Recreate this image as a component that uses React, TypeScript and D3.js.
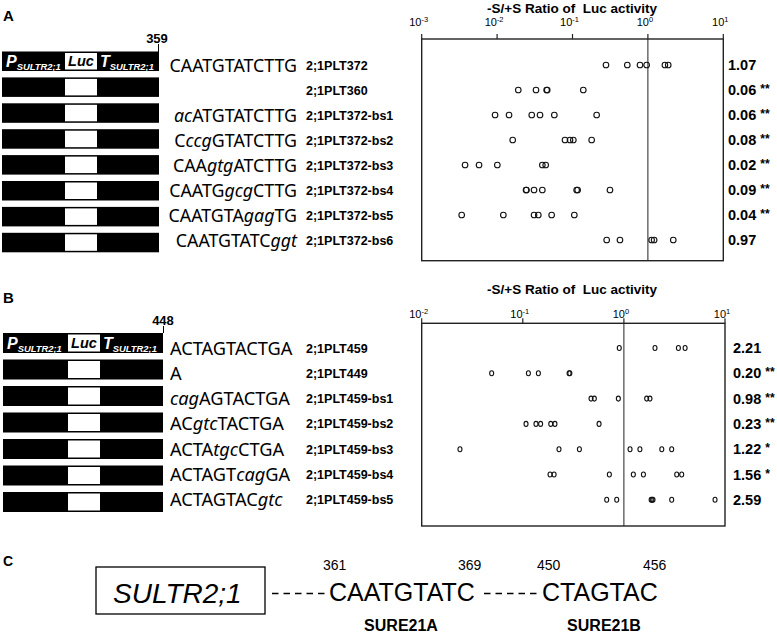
import React from 'react';
import * as d3 from 'd3';

// ---------- Panel A data ----------
const namesA = ['2;1PLT372', '2;1PLT360', '2;1PLT372-bs1', '2;1PLT372-bs2', '2;1PLT372-bs3', '2;1PLT372-bs4', '2;1PLT372-bs5', '2;1PLT372-bs6'];
const seqsA = ['CAATGTATCTTG', '', 'acATGTATCTTG', 'CccgGTATCTTG', 'CAAgtgATCTTG', 'CAATGgcgCTTG', 'CAATGTAgagTG', 'CAATGTATCggt'];
const meansA = ['1.07', '0.06', '0.06', '0.08', '0.02', '0.09', '0.04', '0.97'];
const sigA = ['', '**', '**', '**', '**', '**', '**', ''];
const pointsA = [
  [0.278, 0.533, 0.785, 0.962, 1.68, 1.86],
  [0.0191, 0.0328, 0.0454, 0.0462, 0.139],
  [0.0094, 0.0144, 0.0288, 0.0371, 0.0574, 0.209],
  [0.0161, 0.0795, 0.0927, 0.1026, 0.1795],
  [0.00376, 0.00576, 0.01007, 0.0398, 0.0441],
  [0.0242, 0.0245, 0.0309, 0.0398, 0.1135, 0.117, 0.314],
  [0.00339, 0.0121, 0.0309, 0.0352, 0.0529, 0.1057],
  [0.284, 0.426, 1.12, 1.21, 2.17],
];
const ticksA = [1e-3, 1e-2, 1e-1, 1, 10];
const tickExpA = ['-3', '-2', '-1', '0', '1'];

// ---------- Panel B data ----------
const namesB = ['2;1PLT459', '2;1PLT449', '2;1PLT459-bs1', '2;1PLT459-bs2', '2;1PLT459-bs3', '2;1PLT459-bs4', '2;1PLT459-bs5'];
const seqsB = ['ACTAGTACTGA', 'A', 'cagAGTACTGA', 'ACgtcTACTGA', 'ACTAtgcCTGA', 'ACTAGTcagGA', 'ACTAGTACgtc'];
const meansB = ['2.21', '0.20', '0.98', '0.23', '1.22', '1.56', '2.59'];
const sigB = ['', '**', '**', '**', '*', '*', ''];
const pointsB = [
  [0.9, 2.03, 3.46, 4.03],
  [0.0492, 0.1136, 0.1426, 0.287, 0.292],
  [0.473, 0.51, 0.881, 1.68, 1.81],
  [0.1076, 0.135, 0.15, 0.189, 0.208, 0.568],
  [0.0239, 0.228, 0.363, 1.15, 1.44, 2.37, 2.97],
  [0.186, 0.204, 0.718, 1.24, 1.56, 3.33, 3.73],
  [0.676, 0.849, 1.86, 1.9, 1.94, 2.97, 7.97],
];
const ticksB = [1e-2, 1e-1, 1, 10];
const tickExpB = ['-2', '-1', '0', '1'];

// ---------- Panel C data ----------
const geneName = 'SULTR2;1';
const motifs = ['CAATGTATC', 'CTAGTAC'];
const motifNames = ['SURE21A', 'SURE21B'];
const motifStart = ['361', '450'];
const motifEnd = ['369', '456'];

const AR = '"Liberation Sans", Arial, Helvetica, sans-serif';
const NOTO = '"Noto Sans", "Open Sans", sans-serif';

function Seq({ s, x, y, anchor, size }: { s: string; x: number; y: number; anchor: string; size: number }) {
  const runs: { t: string; lower: boolean }[] = [];
  for (const ch of s) {
    const lower = ch === ch.toLowerCase();
    if (runs.length && runs[runs.length - 1].lower === lower) runs[runs.length - 1].t += ch;
    else runs.push({ t: ch, lower });
  }
  return (
    <text x={x} y={y} textAnchor={anchor} fontFamily={NOTO} fontSize={size} fill="#000">
      {runs.map((r, i) => (
        <tspan key={i} fontStyle={r.lower ? 'italic' : 'normal'}>{r.t}</tspan>
      ))}
    </text>
  );
}

function ConstructBar({ x0, x1, y, h, lucX0, lucX1, first }: any) {
  return (
    <g>
      <rect x={x0} y={y} width={x1 - x0} height={h} fill="#000" />
      <rect x={lucX0} y={y + 1.5} width={lucX1 - lucX0} height={h - 3} fill="#fff" />
      {first && (
        <g fontFamily={AR} fontWeight="bold" fontStyle="italic">
          <text x={x0 + 4} y={y + h / 2 + 5.5} fill="#fff" fontSize={16}>
            P<tspan fontSize={9.4} dy={3.5}>SULTR2;1</tspan>
          </text>
          <text x={(lucX0 + lucX1) / 2} y={y + h / 2 + 5} fill="#000" fontSize={14.5} textAnchor="middle">Luc</text>
          <text x={lucX1 + 3} y={y + h / 2 + 5.5} fill="#fff" fontSize={16}>
            T<tspan fontSize={9.4} dy={3.5}>SULTR2;1</tspan>
          </text>
        </g>
      )}
    </g>
  );
}

function DotPanel({ scale, ticks, exps, top, bottom, titleY, labelY, rows, pts, means, sig, rx, ry, labelX }: any) {
  const [x0, x1] = scale.range();
  return (
    <g>
      <text x={572} y={titleY} textAnchor="middle" fontFamily={AR} fontWeight="bold" fontSize={13.5} style={{ whiteSpace: 'pre' }}>
        {'-S/+S Ratio of  Luc activity'}
      </text>
      {ticks.map((t: number, i: number) => (
        <g key={i}>
          <line x1={scale(t)} x2={scale(t)} y1={top - 5} y2={top} stroke="#222" strokeWidth={1.2} />
          <text x={scale(t) - 3} y={labelY} textAnchor="middle" fontFamily={AR} fontSize={11}>
            10<tspan fontSize={7.5} dy={-4}>{exps[i]}</tspan>
          </text>
        </g>
      ))}
      <rect x={x0} y={top} width={x1 - x0} height={bottom - top} fill="none" stroke="#222" strokeWidth={1.4} />
      <line x1={scale(1)} x2={scale(1)} y1={top} y2={bottom} stroke="#222" strokeWidth={1} />
      {pts.map((row: number[], i: number) => (
        <g key={i}>
          {row.map((v, j) => (
            <ellipse key={j} cx={scale(v)} cy={rows[i]} rx={rx} ry={ry} fill="none" stroke="#111" strokeWidth={1.1} />
          ))}
          <text x={labelX} y={rows[i] + 5} fontFamily={AR} fontWeight="bold" fontSize={14.5}>
            {means[i]}
            {sig[i] && <tspan fontSize={12} dx={4} dy={-2}>{sig[i]}</tspan>}
          </text>
        </g>
      ))}
    </g>
  );
}

export default function App() {
  const xA = d3.scaleLog().domain([1e-3, 10]).range([421.7, 723.3]);
  const xB = d3.scaleLog().domain([1e-2, 10]).range([421.7, 725]);
  const rowsA = namesA.map((_, i) => 65 + 25 * i);
  const rowsB = namesB.map((_, i) => 348 + 25.3 * i);

  return (
    <svg width={777} height={633} style={{ position: 'absolute', left: 0, top: 0, background: '#fff' }}>
      <rect width={777} height={633} fill="#fff" />
      {/* Panel letters */}
      <text x={3} y={21} fontFamily={AR} fontWeight="bold" fontSize={15}>A</text>
      <text x={3} y={303} fontFamily={AR} fontWeight="bold" fontSize={15}>B</text>
      <text x={3} y={566} fontFamily={AR} fontWeight="bold" fontSize={14}>C</text>

      {/* Panel A constructs */}
      <text x={157} y={43} textAnchor="middle" fontFamily={AR} fontWeight="bold" fontSize={13}>359</text>
      <line x1={158.5} x2={158.5} y1={44} y2={52} stroke="#000" strokeWidth={1} />
      {namesA.map((n, i) => {
        const by = 51.5 + 25.9 * i;
        return (
          <g key={n}>
            <ConstructBar x0={2} x1={159} y={by} h={19.5} lucX0={65} lucX1={97} first={i === 0} />
            {seqsA[i] && <Seq s={seqsA[i]} x={297} y={rowsA[i] + 6.5} anchor="end" size={17.8} />}
            <text x={306} y={rowsA[i] + 4.5} fontFamily={AR} fontWeight="bold" fontSize={12.5}>{n}</text>
          </g>
        );
      })}
      <DotPanel scale={xA} ticks={ticksA} exps={tickExpA} top={39} bottom={260.7} titleY={12.5} labelY={26}
        rows={rowsA} pts={pointsA} means={meansA} sig={sigA} rx={2.8} ry={2.8} labelX={728} />

      {/* Panel B constructs */}
      <text x={163} y={325} textAnchor="middle" fontFamily={AR} fontWeight="bold" fontSize={13}>448</text>
      <line x1={163.5} x2={163.5} y1={326} y2={333} stroke="#000" strokeWidth={1} />
      {namesB.map((n, i) => {
        const by = 333 + 26.5 * i;
        return (
          <g key={n}>
            <ConstructBar x0={3} x1={163} y={by} h={20} lucX0={68} lucX1={100} first={i === 0} />
            <Seq s={seqsB[i]} x={170} y={rowsB[i] + 6.5} anchor="start" size={18.2} />
            <text x={306} y={rowsB[i] + 4.5} fontFamily={AR} fontWeight="bold" fontSize={12.5}>{n}</text>
          </g>
        );
      })}
      <DotPanel scale={xB} ticks={ticksB} exps={tickExpB} top={323.3} bottom={526} titleY={294} labelY={318}
        rows={rowsB} pts={pointsB} means={meansB} sig={sigB} rx={2} ry={2.5} labelX={733} />

      {/* Panel C */}
      <rect x={96} y={567} width={169} height={47} fill="none" stroke="#000" strokeWidth={1.3} />
      <text x={113} y={603} fontFamily={AR} fontStyle="italic" fontSize={28}>{geneName}</text>
      <line x1={272} x2={327} y1={593.5} y2={593.5} stroke="#000" strokeWidth={1.5} strokeDasharray="6.5,5" />
      <line x1={484} x2={540} y1={593.5} y2={593.5} stroke="#000" strokeWidth={1.5} strokeDasharray="6.5,5" />
      {[{ x: 329, l: 323, r: 458, nx: 401 }, { x: 542, l: 537, r: 643, nx: 604 }].map((p, i) => (
        <g key={i}>
          <text x={p.x} y={601} fontFamily={AR} fontSize={25}>{motifs[i]}</text>
          <text x={p.l} y={570} fontFamily={AR} fontSize={14}>{motifStart[i]}</text>
          <text x={p.r} y={570} fontFamily={AR} fontSize={14}>{motifEnd[i]}</text>
          <text x={p.nx} y={631} textAnchor="middle" fontFamily={AR} fontWeight="bold" fontSize={16}>{motifNames[i]}</text>
        </g>
      ))}
    </svg>
  );
}
